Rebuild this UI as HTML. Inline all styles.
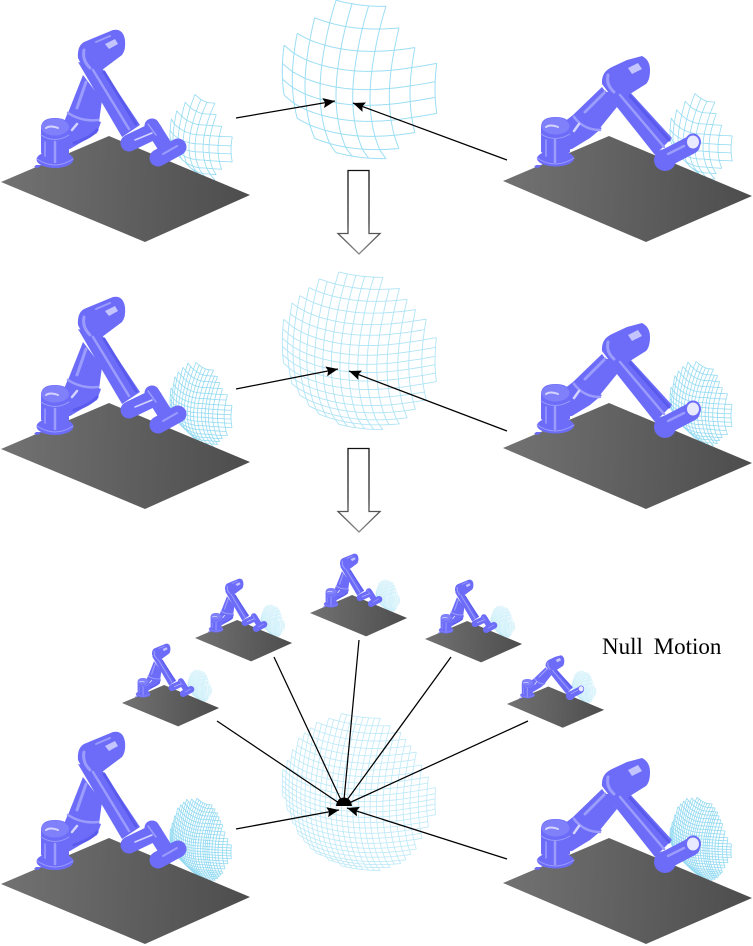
<!DOCTYPE html>
<html lang="en">
<head>
<meta charset="utf-8">
<title>Null motion diagram</title>
<style>
html,body{margin:0;padding:0;background:#fff}
svg{display:block}
.body{fill:#6c6cf9}
.pale{fill:#8080fa}
.tube{fill:none;stroke:#6c6cf9;stroke-linecap:round}
.dark{fill:none;stroke:#5a5aec;stroke-linecap:round}
.lite{fill:none;stroke:#9c9cfd;stroke-linecap:round}
.white{fill:none;stroke:#d4d4ff;stroke-linecap:round}
.patch{fill:#c4c4ff}
.ptr{stroke:#000;stroke-width:1.25;fill:none}
</style>
</head>
<body>
<svg id="scene" xmlns="http://www.w3.org/2000/svg" width="753" height="946" viewBox="0 0 753 946">
<defs>
  <linearGradient id="plate-grad-a" gradientUnits="userSpaceOnUse" x1="1" y1="182" x2="250" y2="195">
    <stop offset="0" stop-color="#727272"/><stop offset="1" stop-color="#4d4d4d"/>
  </linearGradient>
  <linearGradient id="plate-grad-b" gradientUnits="userSpaceOnUse" x1="503" y1="181" x2="752" y2="196">
    <stop offset="0" stop-color="#727272"/><stop offset="1" stop-color="#4d4d4d"/>
  </linearGradient>
  <linearGradient id="block-stroke" x1="0" y1="0" x2="0" y2="1">
    <stop offset="0" stop-color="#111"/><stop offset="0.6" stop-color="#333"/><stop offset="1" stop-color="#888"/>
  </linearGradient>
  <marker id="tip" markerUnits="userSpaceOnUse" markerWidth="13" markerHeight="11" refX="12" refY="5" orient="auto">
    <path d="M0,0 L12,5 L0,10 L2,5 Z" fill="#000"/>
  </marker>
  <g id="robot-a">
    <polygon points="1,182 109,136 250,195 145,242" fill="url(#plate-grad-a)"/>
    <path d="M36,165 L42,165 L38,168 L34,167 Z" class="body"/>
    <polygon points="64,122 68,112 101,122 97,133 70,149 62,150" class="body"/>
    <polygon points="83,75 102,100 99,122 68,113" class="body"/>
    <path d="M68,113 Q82,122 98,120" class="lite" stroke-width="2.500"/>
    <path d="M74,143 Q90,138 97,130" class="dark" stroke-width="3"/>
    <line class="lite" x1="86" y1="82" x2="77" y2="108" stroke-width="3"/>
    <path d="M72,130 L77,124" class="white" stroke-width="2.500"/>
    <ellipse cx="55" cy="159.500" rx="18.500" ry="8.500" class="body"/>
    <path d="M37,159 Q55,171 73,159" class="lite" stroke-width="1"/>
    <path d="M41,128 Q41,118 55,118 Q69,118 69,128 V153 Q55,163 41,153 Z" class="body"/>
    <ellipse cx="55" cy="127" rx="14" ry="8.500" class="pale"/>
    <path d="M46,128 Q50,125 58,128" class="white" stroke-width="2"/>
    <path d="M41,135 Q55,144 69,135" class="lite" stroke-width="1"/>
    <path d="M55,142 V162" class="lite" stroke-width="2.500"/>
    <path d="M45,142 V156" class="lite" stroke-width="1.500"/>
    <polygon points="78,62 122,137 140,125 102,68" class="body"/>
    <path d="M78,58 Q77,46 84,42 L113,30 Q123,28 125,40 Q126,50 122,55 L102,70 L85,72 Z" class="body"/>
    <line class="lite" x1="93" y1="70" x2="129" y2="129" stroke-width="2.500"/>
    <line class="dark" x1="104" y1="72" x2="136" y2="124" stroke-width="3"/>
    <path d="M105,44 L115,39 L118,44 L109,49 Z" class="patch"/>
    <path d="M84,50 Q82,60 90,68" class="lite" stroke-width="3"/>
    <path d="M96,42 L110,36" class="lite" stroke-width="2"/>
    <line class="tube" x1="129" y1="143" x2="154" y2="131" stroke-width="17"/>
    <line class="tube" x1="152" y1="126" x2="164" y2="145" stroke-width="15"/>
    <line class="tube" x1="158" y1="158" x2="178" y2="147" stroke-width="17"/>
    <line class="white" x1="135" y1="140" x2="152" y2="133" stroke-width="1.500"/>
    <line class="lite" x1="163" y1="154" x2="177" y2="146" stroke-width="2"/>
    <line class="lite" x1="148" y1="124" x2="156" y2="135" stroke-width="1.500"/>
  </g>
  <g id="robot-b">
    <polygon points="503,181 609,136 752,196 646,242" fill="url(#plate-grad-b)"/>
    <path d="M536,165 L542,165 L538,168 L534,167 Z" class="body"/>
    <polygon points="564,122 573,115 602,128 590,138 572,149 563,150" class="body"/>
    <polygon points="573,115 602,87 617,107 600,128" class="body"/>
    <path d="M574,117 Q584,130 600,130" class="lite" stroke-width="2.500"/>
    <line class="lite" x1="585" y1="112" x2="605" y2="92" stroke-width="3"/>
    <path d="M574,131 L579,124" class="white" stroke-width="2.500"/>
    <ellipse cx="555.500" cy="158.500" rx="18.500" ry="8" class="body"/>
    <path d="M537,158 Q555,170 574,158" class="lite" stroke-width="1"/>
    <path d="M541,127 Q541,117 555.500,117 Q570,117 570,127 V152 Q555,162 541,152 Z" class="body"/>
    <ellipse cx="555.500" cy="126" rx="14" ry="8.500" class="pale"/>
    <path d="M546,127 Q550,124 558,127" class="white" stroke-width="2"/>
    <path d="M541,134 Q555,143 570,134" class="lite" stroke-width="1"/>
    <path d="M555,140 V162" class="lite" stroke-width="2.500"/>
    <path d="M546,140 V156" class="lite" stroke-width="1.500"/>
    <polygon points="605,92 655,155 672,138 630,92" class="body"/>
    <path d="M602,84 Q601,72 612,67 L627,60 L642,56 Q650,60 650,70 Q650,80 646,84 L630,94 L612,97 Z" class="body"/>
    <path d="M628,68 L638,63 L642,69 L632,74 Z" class="patch"/>
    <path d="M608,75 Q606,85 614,92" class="lite" stroke-width="3"/>
    <line class="lite" x1="620" y1="95" x2="664" y2="147" stroke-width="2.500"/>
    <line class="dark" x1="630" y1="96" x2="669" y2="140" stroke-width="3"/>
    <circle cx="665" cy="160" r="11" class="body"/>
    <line class="tube" x1="666" y1="158" x2="691" y2="145" stroke-width="18"/>
    <line class="lite" x1="668" y1="154" x2="684" y2="146" stroke-width="2.500"/>
    <ellipse cx="693" cy="142" rx="7" ry="7.500" fill="#e8e8ff" stroke="#6c6cf9" stroke-width="2"/>
  </g>
</defs>
<rect width="753" height="946" fill="#fff"/>
<g id="grids"></g>
<g id="panels"></g>
<g>
  <line class="ptr" x1="236" y1="118" x2="335" y2="101" marker-end="url(#tip)"/>
  <line class="ptr" x1="507" y1="160" x2="353" y2="103" marker-end="url(#tip)"/>
  <line class="ptr" x1="236" y1="389" x2="338" y2="369" marker-end="url(#tip)"/>
  <line class="ptr" x1="507" y1="431" x2="349" y2="371" marker-end="url(#tip)"/>
  <line class="ptr" x1="236" y1="829" x2="339" y2="810" marker-end="url(#tip)"/>
  <line class="ptr" x1="507" y1="859" x2="347" y2="808" marker-end="url(#tip)"/>
  <line class="ptr" x1="217" y1="721" x2="339" y2="803"/>
  <line class="ptr" x1="274" y1="657" x2="341" y2="800"/>
  <line class="ptr" x1="359" y1="640" x2="344" y2="800"/>
  <line class="ptr" x1="451" y1="657" x2="347" y2="800"/>
  <line class="ptr" x1="528" y1="721" x2="349" y2="803"/>
  <path d="M336,806 Q337,798 344,797.500 Q351,798 352,806 Z" fill="#000"/>
</g>
<path d="M348,170.500 H369 V233.500 H380 L359,254 L338,233.500 H348 Z" fill="#fff" stroke="url(#block-stroke)" stroke-width="1.300"/>
<path d="M348,448.500 H369 V511.500 H380 L359,532 L338,511.500 H348 Z" fill="#fff" stroke="url(#block-stroke)" stroke-width="1.300"/>
<text x="602" y="654" font-family="'Liberation Serif',serif" font-size="23" word-spacing="5" fill="#000">Null Motion</text>
<script>
// Central workspace grid: line positions along each index (image pixels)
const columnPositions = [282.3, 292.3, 305, 320, 336, 352.7, 370, 389.3, 410, 435];
const rowPositions = [5, 27.7, 50, 70, 88.3, 104, 120, 135, 148.3, 157.3];
// Small reach grid beside each robot, seen more edge-on
const insetColumns = [0, 3, 8, 13, 19, 25, 33, 39, 48, 61];
const insetRows = [103, 114, 125, 135, 144, 152, 160, 168, 174, 180];
// Half-width (in cells) of each row of the stepped outline
const halvesCoarse = [1.5, 2.5, 3.5, 4.5, 4.5, 4.5, 4.5, 3.5, 2.5, 1.5];
const halvesMedium = [2.5, 4.5, 5.5, 6.5, 7.5, 7.5, 8.5, 8.5, 8.5, 8.5, 8.5, 8.5, 7.5, 7.5, 6.5, 5.5, 4.5, 2.5];
const halvesFine = [3.5, 5.5, 7.5, 8.5, 9.5, 10.5, 10.5, 11.5, 11.5, 12.5, 12.5, 13.5, 13.5, 13.5, 13.5, 13.5, 13.5, 12.5, 12.5, 11.5, 11.5, 10.5, 10.5, 9.5, 8.5, 7.5, 5.5, 3.5];

const NS = 'http://www.w3.org/2000/svg';

function lerp(arr, k) {
  const a = Math.max(0, Math.min(arr.length - 1, k));
  const i = Math.min(arr.length - 2, Math.floor(a));
  return arr[i] + (arr[i + 1] - arr[i]) * (a - i);
}
function mapCentre(u, v, tf) {
  const t = (v - 4.5) / 4.5;
  const x = lerp(columnPositions, u) + 16 * t * t;
  const y = lerp(rowPositions, v) - 0.78 * ((u - 5.8) * (u - 5.8) - 1.7);
  return x.toFixed(2) + ',' + (tf.oy + y).toFixed(2);
}
function mapInset(u, v, tf) {
  const t = (v - 4.5) / 4.5;
  const s = u - 5.8;
  const x = tf.ox + lerp(insetColumns, u) + 12 * t * t;
  const dy = s > 0 ? 0.6 * s : -(0.4 + 0.7 * t * t) * s * s;
  const y = tf.oy + lerp(insetRows, v) + dy;
  return x.toFixed(2) + ',' + y.toFixed(2);
}
function gridPath(halves, tf, mapper) {
  const n = halves.length;
  const c = (n - 1) / 2;
  const f = 9 / (n - 1);
  const sub = n < 12 ? 4 : 2;
  let d = '';
  for (let j = 0; j < n; j++) {
    const a = c - halves[j], b = c + halves[j];
    const pts = [];
    for (let k = a * sub; k <= b * sub + 0.001; k++) pts.push(mapper(k / sub * f, j * f, tf));
    d += 'M' + pts.join('L');
  }
  for (let i = 0; i < n; i++) {
    let lo = -1, hi = -1;
    for (let j = 0; j < n; j++) {
      if (Math.abs(i - c) <= halves[j] + 0.001) { if (lo < 0) lo = j; hi = j; }
    }
    if (lo < 0) continue;
    const pts = [];
    for (let k = lo * sub; k <= hi * sub; k++) pts.push(mapper(i * f, k / sub * f, tf));
    d += 'M' + pts.join('L');
  }
  return d;
}

const gridLayer = document.getElementById('grids');
const panelLayer = document.getElementById('panels');

const centre1 = document.createElementNS(NS, 'path');


centre1.setAttribute('d', gridPath(halvesCoarse, {oy: 0}, mapCentre));
centre1.setAttribute('fill', 'none');
centre1.setAttribute('stroke', '#9cdef4');
centre1.setAttribute('stroke-width', '1');
gridLayer.appendChild(centre1);

const centre2 = document.createElementNS(NS, 'path');


centre2.setAttribute('d', gridPath(halvesMedium, {oy: 271}, mapCentre));
centre2.setAttribute('fill', 'none');
centre2.setAttribute('stroke', '#b0e4f6');
centre2.setAttribute('stroke-width', '0.9');
gridLayer.appendChild(centre2);

const centre3 = document.createElementNS(NS, 'path');


centre3.setAttribute('d', gridPath(halvesFine, {oy: 712}, mapCentre));
centre3.setAttribute('fill', 'none');
centre3.setAttribute('stroke', '#bce9f8');
centre3.setAttribute('stroke-width', '0.8');
gridLayer.appendChild(centre3);

// Robot panels
const panelRobots = ['a', 'b', 'a', 'b', 'a', 'b', 'a', 'a', 'a', 'a', 'b'];
const panelX = [0, 0, 0, 0, 0, 0, 121.6, 194.6, 309.6, 424.6, 310.8];
const panelY = [0, 0, 267, 267, 702, 702, 632, 567, 542, 568, 633.4];
const panelScale = [1, 1, 1, 1, 1, 1, 0.39, 0.39, 0.39, 0.39, 0.39];
const panelDensity = [0, 0, 1, 1, 2, 2, 2, 2, 2, 2, 2];
const densityHalves = [halvesCoarse, halvesMedium, halvesFine];

panelRobots.forEach(function (kind, idx) {
  const small = panelScale[idx] < 1;
  const g = document.createElementNS(NS, 'g');
  
  
  g.setAttribute('transform', 'translate(' + panelX[idx] + ',' + panelY[idx] + ') scale(' + panelScale[idx] + ')');
  const tf = kind === 'a' ? {ox: 170, oy: 0} : {ox: 670, oy: -1};
  const inset = document.createElementNS(NS, 'path');
  
  
  inset.setAttribute('d', gridPath(densityHalves[panelDensity[idx]], tf, mapInset));
  inset.setAttribute('fill', 'none');
  inset.setAttribute('stroke', small ? '#aee5f7' : '#93daf2');
  inset.setAttribute('stroke-width', small ? '0.3' : '0.8');
  inset.setAttribute('vector-effect', 'non-scaling-stroke');
  g.appendChild(inset);
  const u = document.createElementNS(NS, 'use');
  
  
  u.setAttribute('href', '#robot-' + kind);
  g.appendChild(u);
  panelLayer.appendChild(g);
});
</script>
</svg>
</body>
</html>
